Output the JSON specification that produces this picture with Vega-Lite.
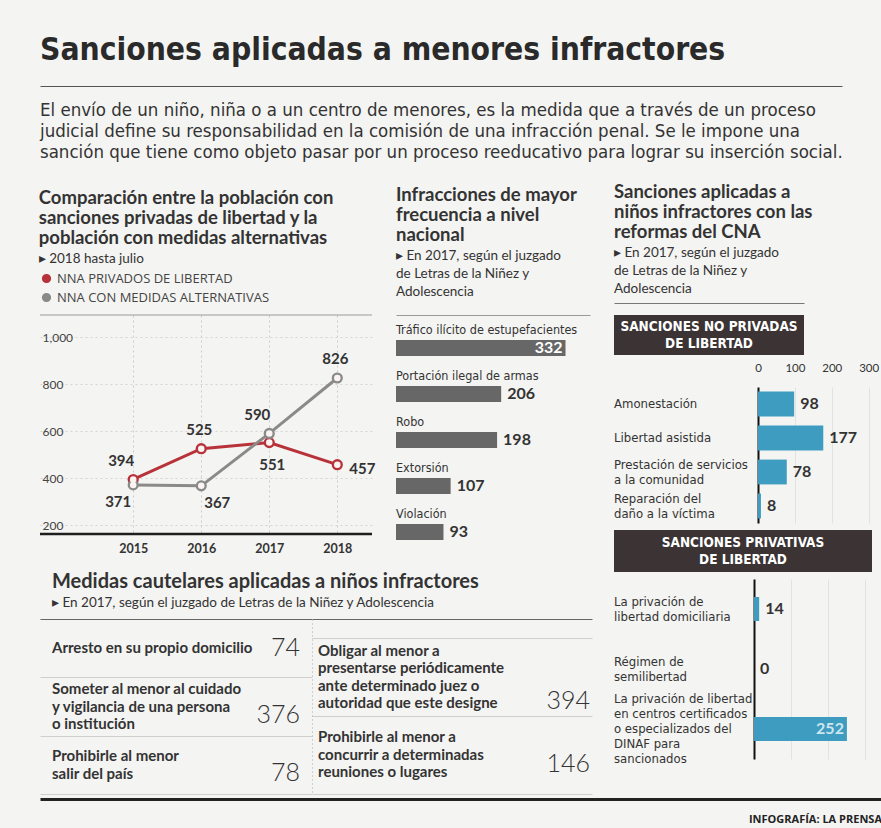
{
  "$schema": "https://vega.github.io/schema/vega-lite/v6.json",
  "background": "#f4f4f2",
  "padding": {"left": 38, "top": 34, "right": 0, "bottom": 0},
  "config": {
    "view": {"stroke": null},
    "font": "Lato",
    "title": {"anchor": "start", "color": "#333333", "font": "Lato", "fontWeight": "bold", "fontSize": 18.5, "lineHeight": 20, "subtitleFont": "Lato", "subtitleFontSize": 13.5, "subtitleColor": "#333333", "subtitleLineHeight": 18, "subtitlePadding": 4, "offset": 12},
    "axis": {"labelFont": "Lato", "titleFont": "Lato"}
  },
  "spacing": 5,
  "resolve": {"scale": {"color": "independent"}, "legend": {"color": "independent"}},
  "vconcat": [
    {
      "spacing": 20,
      "resolve": {"scale": {"color": "independent"}, "legend": {"color": "independent"}},
      "vconcat": [
        {
          "title": {"text": "Sanciones aplicadas a menores infractores", "font": "DejaVu Sans Condensed", "fontSize": 31.5, "fontWeight": "bold", "color": "#2a2a2a", "offset": 20},
          "width": 802,
          "height": 64,
          "data": {"values": [
            {"linea": 1, "texto": "El envío de un niño, niña o a un centro de menores, es la medida que a través de un proceso"},
            {"linea": 2, "texto": "judicial define su responsabilidad en la comisión de una infracción penal. Se le impone una"},
            {"linea": 3, "texto": "sanción que tiene como objeto pasar por un proceso reeducativo para lograr su inserción social."}
          ]},
          "mark": {"type": "text", "align": "left", "font": "DejaVu Sans Condensed", "fontSize": 18.5, "color": "#333333"},
          "encoding": {
            "x": {"datum": 0, "type": "quantitative", "scale": {"domain": [0, 1]}, "axis": {"orient": "top", "domain": true, "domainColor": "#555555", "labels": false, "ticks": false, "grid": false, "title": null, "offset": 13}},
            "y": {"field": "linea", "type": "ordinal", "axis": null, "scale": {"paddingInner": 0, "paddingOuter": 0}},
            "text": {"field": "texto"}
          }
        },
        {
          "spacing": 22,
          "resolve": {"scale": {"color": "independent"}, "legend": {"color": "independent"}},
          "hconcat": [
            {
              "spacing": 16,
              "resolve": {"scale": {"color": "independent"}, "legend": {"color": "independent"}},
              "vconcat": [
                {
                  "spacing": 20,
                  "resolve": {"scale": {"color": "independent"}, "legend": {"color": "independent"}},
                  "hconcat": [
                    {
                      "title": {"text": ["Comparación entre la población con", "sanciones privadas de libertad y la", "población con medidas alternativas"], "subtitle": "▸ 2018 hasta julio", "offset": 7},
                      "width": 332,
                      "height": 219,
                      "data": {"values": [
                        {"anio": 2015, "grupo": "NNA PRIVADOS DE LIBERTAD", "casos": 394},
                        {"anio": 2016, "grupo": "NNA PRIVADOS DE LIBERTAD", "casos": 525},
                        {"anio": 2017, "grupo": "NNA PRIVADOS DE LIBERTAD", "casos": 551},
                        {"anio": 2018, "grupo": "NNA PRIVADOS DE LIBERTAD", "casos": 457},
                        {"anio": 2015, "grupo": "NNA CON MEDIDAS ALTERNATIVAS", "casos": 371},
                        {"anio": 2016, "grupo": "NNA CON MEDIDAS ALTERNATIVAS", "casos": 367},
                        {"anio": 2017, "grupo": "NNA CON MEDIDAS ALTERNATIVAS", "casos": 590},
                        {"anio": 2018, "grupo": "NNA CON MEDIDAS ALTERNATIVAS", "casos": 826}
                      ]},
                      "layer": [
                        {
                          "mark": {"type": "line", "strokeWidth": 3},
                          "encoding": {
                            "x": {"field": "anio", "type": "quantitative", "scale": {"domain": [2013.63, 2018.51], "nice": false, "zero": false}, "axis": {"values": [2015, 2016, 2017, 2018], "format": "d", "title": null, "labelFontWeight": "bold", "labelFontSize": 12.5, "labelColor": "#333333", "domain": false, "ticks": false, "grid": true, "gridDash": [2, 3], "gridColor": "#cccccc", "labelPadding": 8}},
                            "y": {"field": "casos", "type": "quantitative", "scale": {"domain": [162, 1094], "nice": false, "zero": false}, "axis": {"values": [200, 400, 600, 800, 1000], "format": ",d", "title": null, "labelAlign": "left", "labelPadding": -2, "labelFontSize": 12, "labelColor": "#444444", "domain": false, "ticks": false, "grid": true, "gridDash": [2, 3], "gridColor": "#d5d5d5"}},
                            "color": {"field": "grupo", "type": "nominal", "scale": {"domain": ["NNA PRIVADOS DE LIBERTAD", "NNA CON MEDIDAS ALTERNATIVAS"], "range": ["#b8323a", "#8a8a88"]},
                              "legend": {"orient": "top", "direction": "vertical", "title": null, "symbolType": "circle", "symbolSize": 60, "labelFontSize": 13, "labelColor": "#444444", "labelFont": "Open Sans", "labelLimit": 0, "rowPadding": 4, "padding": 0, "offset": 10}}
                          }
                        },
                        {
                          "mark": {"type": "point", "shape": "circle", "filled": true, "size": 125, "opacity": 1},
                          "encoding": {
                            "x": {"field": "anio", "type": "quantitative"},
                            "y": {"field": "casos", "type": "quantitative"},
                            "color": {"field": "grupo", "type": "nominal"}
                          }
                        },
                        {
                          "mark": {"type": "point", "shape": "circle", "filled": true, "size": 42, "opacity": 1, "color": "#fbf4f2"},
                          "encoding": {
                            "x": {"field": "anio", "type": "quantitative"},
                            "y": {"field": "casos", "type": "quantitative"}
                          }
                        },
                        {
                          "data": {"values": [{"limite": 1094}]},
                          "mark": {"type": "rule", "color": "#9a9a9a", "strokeWidth": 1},
                          "encoding": {"y": {"field": "limite", "type": "quantitative"}}
                        },
                        {
                          "data": {"values": [{"limite": 162}]},
                          "mark": {"type": "rule", "color": "#1e1e1e", "strokeWidth": 2.5},
                          "encoding": {"y": {"field": "limite", "type": "quantitative"}}
                        },
                        {
                          "transform": [{"filter": "(datum.grupo == 'NNA PRIVADOS DE LIBERTAD' && datum.anio == 2015) || (datum.grupo == 'NNA CON MEDIDAS ALTERNATIVAS' && datum.anio == 2017)"}],
                          "mark": {"type": "text", "dx": -12, "dy": -18, "fontSize": 15, "fontWeight": "bold", "color": "#333333"},
                          "encoding": {"x": {"field": "anio", "type": "quantitative"}, "y": {"field": "casos", "type": "quantitative"}, "text": {"field": "casos"}}
                        },
                        {
                          "transform": [{"filter": "(datum.grupo == 'NNA PRIVADOS DE LIBERTAD' && datum.anio == 2016) || (datum.grupo == 'NNA CON MEDIDAS ALTERNATIVAS' && datum.anio == 2018)"}],
                          "mark": {"type": "text", "dx": -2, "dy": -19, "fontSize": 15, "fontWeight": "bold", "color": "#333333"},
                          "encoding": {"x": {"field": "anio", "type": "quantitative"}, "y": {"field": "casos", "type": "quantitative"}, "text": {"field": "casos"}}
                        },
                        {
                          "transform": [{"filter": "datum.grupo == 'NNA CON MEDIDAS ALTERNATIVAS' && datum.anio == 2015"}],
                          "mark": {"type": "text", "dx": -15, "dy": 17, "fontSize": 15, "fontWeight": "bold", "color": "#333333"},
                          "encoding": {"x": {"field": "anio", "type": "quantitative"}, "y": {"field": "casos", "type": "quantitative"}, "text": {"field": "casos"}}
                        },
                        {
                          "transform": [{"filter": "datum.grupo == 'NNA CON MEDIDAS ALTERNATIVAS' && datum.anio == 2016"}],
                          "mark": {"type": "text", "dx": 16, "dy": 17, "fontSize": 15, "fontWeight": "bold", "color": "#333333"},
                          "encoding": {"x": {"field": "anio", "type": "quantitative"}, "y": {"field": "casos", "type": "quantitative"}, "text": {"field": "casos"}}
                        },
                        {
                          "transform": [{"filter": "datum.grupo == 'NNA PRIVADOS DE LIBERTAD' && datum.anio == 2017"}],
                          "mark": {"type": "text", "dx": 3, "dy": 22, "fontSize": 15, "fontWeight": "bold", "color": "#333333"},
                          "encoding": {"x": {"field": "anio", "type": "quantitative"}, "y": {"field": "casos", "type": "quantitative"}, "text": {"field": "casos"}}
                        },
                        {
                          "transform": [{"filter": "datum.grupo == 'NNA PRIVADOS DE LIBERTAD' && datum.anio == 2018"}],
                          "mark": {"type": "text", "dx": 12, "dy": 4, "align": "left", "fontSize": 15, "fontWeight": "bold", "color": "#333333"},
                          "encoding": {"x": {"field": "anio", "type": "quantitative"}, "y": {"field": "casos", "type": "quantitative"}, "text": {"field": "casos"}}
                        }
                      ]
                    },
                    {
                      "title": {"text": ["Infracciones de mayor", "frecuencia a nivel", "nacional"], "subtitle": ["▸ En 2017, según el juzgado", "\u00a0\u00a0\u00a0de Letras de la Niñez y", "\u00a0\u00a0\u00a0Adolescencia"], "offset": 17},
                      "width": 194,
                      "height": 236,
                      "data": {"values": [
                        {"infraccion": "Tráfico ilícito de estupefacientes", "casos": 332},
                        {"infraccion": "Portación ilegal de armas", "casos": 206},
                        {"infraccion": "Robo", "casos": 198},
                        {"infraccion": "Extorsión", "casos": 107},
                        {"infraccion": "Violación", "casos": 93}
                      ]},
                      "layer": [
                        {
                          "mark": {"type": "bar", "size": 16, "color": "#676767", "yOffset": 4},
                          "encoding": {
                            "x": {"field": "casos", "type": "quantitative", "scale": {"domain": [0, 380], "nice": false}, "axis": {"orient": "top", "labels": false, "ticks": false, "grid": false, "domain": true, "domainColor": "#999999", "offset": 0, "title": null}},
                            "y": {"field": "infraccion", "type": "nominal", "sort": null, "axis": null, "scale": {"paddingInner": 0, "paddingOuter": 0.065, "align": 1}}
                          }
                        },
                        {
                          "mark": {"type": "text", "align": "left", "baseline": "top", "dy": 3, "font": "DejaVu Sans Condensed", "fontSize": 12.5, "color": "#333333"},
                          "encoding": {
                            "x": {"datum": 0, "type": "quantitative"},
                            "y": {"field": "infraccion", "type": "nominal", "sort": null, "bandPosition": 0},
                            "text": {"field": "infraccion"}
                          }
                        },
                        {
                          "transform": [{"filter": "datum.casos < 300"}],
                          "mark": {"type": "text", "align": "left", "dx": 6, "dy": 4, "fontSize": 16, "fontWeight": "bold", "color": "#333333"},
                          "encoding": {
                            "x": {"field": "casos", "type": "quantitative"},
                            "y": {"field": "infraccion", "type": "nominal", "sort": null},
                            "text": {"field": "casos"}
                          }
                        },
                        {
                          "transform": [{"filter": "datum.casos >= 300"}],
                          "mark": {"type": "text", "align": "right", "dx": -3, "dy": 4, "fontSize": 16, "fontWeight": "bold", "color": "#ffffff"},
                          "encoding": {
                            "x": {"field": "casos", "type": "quantitative"},
                            "y": {"field": "infraccion", "type": "nominal", "sort": null},
                            "text": {"field": "casos"}
                          }
                        }
                      ]
                    }
                  ]
                },
                {
                  "title": {"text": "Medidas cautelares aplicadas a niños infractores", "subtitle": "▸ En 2017, según el juzgado de Letras de la Niñez y Adolescencia", "fontSize": 20, "dx": 12, "offset": 10},
                  "spacing": 0,
                  "hconcat": [
                    {
                      "width": 272,
                      "height": 175,
                      "data": {"values": [
                        {"medida": "Arresto en su propio domicilio", "casos": 74},
                        {"medida": "Someter al menor al cuidado\ny vigilancia de una persona\no institución", "casos": 376},
                        {"medida": "Prohibirle al menor\nsalir del país", "casos": 78}
                      ]},
                      "encoding": {
                        "x": {"datum": 0, "type": "quantitative", "scale": {"domain": [0, 1]}, "axis": {"orient": "top", "domain": true, "domainColor": "#666666", "labels": false, "ticks": false, "grid": false, "title": null}},
                        "y": {"field": "medida", "type": "nominal", "sort": ["Arresto en su propio domicilio", "Someter al menor al cuidado\ny vigilancia de una persona\no institución", "Prohibirle al menor\nsalir del país"], "scale": {"paddingInner": 0, "paddingOuter": 0}, "axis": {"grid": true, "tickBand": "extent", "labels": false, "ticks": false, "domain": false, "gridColor": "#cfcfcf", "title": null}}
                      },
                      "layer": [
                        {
                          "transform": [{"filter": "length(split(datum.medida, '\\n')) == 1"}],
                          "mark": {"type": "text", "align": "left", "dx": 12, "lineBreak": "\n", "lineHeight": 17.5, "fontSize": 15, "fontWeight": "bold", "color": "#333333"},
                          "encoding": {"text": {"field": "medida"}}
                        },
                        {
                          "transform": [{"filter": "length(split(datum.medida, '\\n')) == 2"}],
                          "mark": {"type": "text", "align": "left", "dx": 12, "dy": -8.75, "lineBreak": "\n", "lineHeight": 17.5, "fontSize": 15, "fontWeight": "bold", "color": "#333333"},
                          "encoding": {"text": {"field": "medida"}}
                        },
                        {
                          "transform": [{"filter": "length(split(datum.medida, '\\n')) == 3"}],
                          "mark": {"type": "text", "align": "left", "dx": 12, "dy": -17.5, "lineBreak": "\n", "lineHeight": 17.5, "fontSize": 15, "fontWeight": "bold", "color": "#333333"},
                          "encoding": {"text": {"field": "medida"}}
                        },
                        {
                          "transform": [{"filter": "length(split(datum.medida, '\\n')) == 1"}],
                          "mark": {"type": "text", "align": "right", "dx": -12, "fontSize": 25, "fontWeight": 300, "color": "#333333"},
                          "encoding": {"x": {"datum": 1, "type": "quantitative"}, "text": {"field": "casos"}}
                        },
                        {
                          "transform": [{"filter": "length(split(datum.medida, '\\n')) > 1"}],
                          "mark": {"type": "text", "align": "right", "dx": -12, "dy": 8, "fontSize": 25, "fontWeight": 300, "color": "#333333"},
                          "encoding": {"x": {"datum": 1, "type": "quantitative"}, "text": {"field": "casos"}}
                        }
                      ]
                    },
                    {
                      "width": 280,
                      "height": 175,
                      "data": {"values": [
                        {"medida": "Obligar al menor a\npresentarse periódicamente\nante determinado juez o\nautoridad que este designe", "casos": 394},
                        {"medida": "Prohibirle al menor a\nconcurrir a determinadas\nreuniones o lugares", "casos": 146}
                      ]},
                      "encoding": {
                        "x": {"datum": 0, "type": "quantitative", "scale": {"domain": [0, 1]}, "axis": {"orient": "top", "domain": true, "domainColor": "#666666", "labels": false, "ticks": false, "grid": false, "title": null}},
                        "y": {"field": "medida", "type": "nominal", "sort": ["Obligar al menor a\npresentarse periódicamente\nante determinado juez o\nautoridad que este designe", "Prohibirle al menor a\nconcurrir a determinadas\nreuniones o lugares"], "scale": {"paddingInner": 0, "paddingOuter": 0.12, "align": 1}, "axis": {"grid": true, "tickBand": "extent", "labels": false, "ticks": false, "domain": true, "domainDash": [1, 3], "domainColor": "#aaaaaa", "gridColor": "#cfcfcf", "title": null}}
                      },
                      "layer": [
                        {
                          "transform": [{"filter": "length(split(datum.medida, '\\n')) == 4"}],
                          "mark": {"type": "text", "align": "left", "dx": 6, "dy": -26.25, "lineBreak": "\n", "lineHeight": 17.5, "fontSize": 15, "fontWeight": "bold", "color": "#333333"},
                          "encoding": {"text": {"field": "medida"}}
                        },
                        {
                          "transform": [{"filter": "length(split(datum.medida, '\\n')) == 3"}],
                          "mark": {"type": "text", "align": "left", "dx": 6, "dy": -17.5, "lineBreak": "\n", "lineHeight": 17.5, "fontSize": 15, "fontWeight": "bold", "color": "#333333"},
                          "encoding": {"text": {"field": "medida"}}
                        },
                        {
                          "transform": [{"filter": "length(split(datum.medida, '\\n')) == 4"}],
                          "mark": {"type": "text", "align": "right", "dx": -2, "dy": 24, "fontSize": 25, "fontWeight": 300, "color": "#333333"},
                          "encoding": {"x": {"datum": 1, "type": "quantitative"}, "text": {"field": "casos"}}
                        },
                        {
                          "transform": [{"filter": "length(split(datum.medida, '\\n')) == 3"}],
                          "mark": {"type": "text", "align": "right", "dx": -2, "dy": 9, "fontSize": 25, "fontWeight": 300, "color": "#333333"},
                          "encoding": {"x": {"datum": 1, "type": "quantitative"}, "text": {"field": "casos"}}
                        }
                      ]
                    }
                  ]
                }
              ]
            },
            {
              "spacing": 7,
              "vconcat": [
                {
                  "title": {"text": ["Sanciones aplicadas a", "niños infractores con las", "reformas del CNA"], "subtitle": ["▸ En 2017, según el juzgado", "\u00a0\u00a0\u00a0de Letras de la Niñez y", "\u00a0\u00a0\u00a0Adolescencia"], "offset": 8},
                  "width": 190,
                  "height": 40,
                  "data": {"values": [{"seccion": "SANCIONES NO PRIVADAS\nDE LIBERTAD"}]},
                  "layer": [
                    {
                      "mark": {"type": "rect", "color": "#3b3334"},
                      "encoding": {
                        "x": {"datum": 0, "type": "quantitative", "scale": {"domain": [0, 1]}, "axis": {"orient": "top", "domain": true, "domainColor": "#777777", "labels": false, "ticks": false, "grid": false, "title": null, "offset": 12}},
                        "x2": {"datum": 1}
                      }
                    },
                    {
                      "mark": {"type": "text", "color": "#ffffff", "fontWeight": "bold", "fontSize": 13.5, "font": "DejaVu Sans Condensed", "lineBreak": "\n", "lineHeight": 17, "dy": -8},
                      "encoding": {"x": {"datum": 0.5, "type": "quantitative"}, "text": {"field": "seccion"}}
                    }
                  ]
                },
                {
                  "spacing": 0,
                  "hconcat": [
                    {
                      "width": 140,
                      "height": 136,
                      "data": {"values": [
                        {"sancion": "Amonestación", "casos": 98},
                        {"sancion": "Libertad asistida", "casos": 177},
                        {"sancion": "Prestación de servicios\na la comunidad", "casos": 78},
                        {"sancion": "Reparación del\ndaño a la víctima", "casos": 8}
                      ]},
                      "encoding": {
                        "x": {"datum": 0, "type": "quantitative", "scale": {"domain": [0, 1]}, "axis": null},
                        "y": {"field": "sancion", "type": "nominal", "sort": ["Amonestación", "Libertad asistida", "Prestación de servicios\na la comunidad", "Reparación del\ndaño a la víctima"], "scale": {"paddingInner": 0.27, "paddingOuter": 0.135}, "axis": null},
                        "text": {"field": "sancion"}
                      },
                      "layer": [
                        {
                          "transform": [{"filter": "length(split(datum.sancion, '\\n')) == 1"}],
                          "mark": {"type": "text", "align": "left", "font": "DejaVu Sans Condensed", "fontSize": 13, "color": "#333333", "lineBreak": "\n", "lineHeight": 15}
                        },
                        {
                          "transform": [{"filter": "length(split(datum.sancion, '\\n')) == 2"}],
                          "mark": {"type": "text", "align": "left", "dy": -7.5, "font": "DejaVu Sans Condensed", "fontSize": 13, "color": "#333333", "lineBreak": "\n", "lineHeight": 15}
                        }
                      ]
                    },
                    {
                      "width": 118,
                      "height": 136,
                      "data": {"values": [
                        {"sancion": "Amonestación", "casos": 98},
                        {"sancion": "Libertad asistida", "casos": 177},
                        {"sancion": "Prestación de servicios\na la comunidad", "casos": 78},
                        {"sancion": "Reparación del\ndaño a la víctima", "casos": 8}
                      ]},
                      "encoding": {
                        "x": {"field": "casos", "type": "quantitative", "scale": {"domain": [0, 320], "nice": false}, "axis": {"orient": "top", "values": [0, 100, 200, 300], "labelOverlap": false, "labelFlush": false, "labelFontSize": 11.5, "labelColor": "#333333", "domain": false, "ticks": false, "grid": true, "gridColor": "#e2e2e2", "labelPadding": 14, "title": null}},
                        "y": {"field": "sancion", "type": "nominal", "sort": null, "scale": {"paddingInner": 0.27, "paddingOuter": 0.135}, "axis": {"labels": false, "domain": true, "domainColor": "#111111", "domainWidth": 2, "ticks": false, "title": null}}
                      },
                      "layer": [
                        {
                          "mark": {"type": "bar", "color": "#3d9cbf"}
                        },
                        {
                          "mark": {"type": "text", "align": "left", "dx": 6, "fontSize": 16, "fontWeight": "bold", "color": "#333333"},
                          "encoding": {"text": {"field": "casos"}}
                        }
                      ]
                    }
                  ]
                },
                {
                  "width": 258,
                  "height": 42,
                  "data": {"values": [{"seccion": "SANCIONES PRIVATIVAS\nDE LIBERTAD"}]},
                  "layer": [
                    {
                      "mark": {"type": "rect", "color": "#3b3334"},
                      "encoding": {"x": {"datum": 0, "type": "quantitative", "scale": {"domain": [0, 1]}, "axis": null}, "x2": {"datum": 1}}
                    },
                    {
                      "mark": {"type": "text", "color": "#ffffff", "fontWeight": "bold", "fontSize": 13.5, "font": "DejaVu Sans Condensed", "lineBreak": "\n", "lineHeight": 17, "dy": -8},
                      "encoding": {"x": {"datum": 0.5, "type": "quantitative"}, "text": {"field": "seccion"}}
                    }
                  ]
                },
                {
                  "spacing": 0,
                  "hconcat": [
                    {
                      "width": 140,
                      "height": 180,
                      "data": {"values": [
                        {"sancion": "La privación de\nlibertad domiciliaria", "casos": 14},
                        {"sancion": "Régimen de\nsemilibertad", "casos": 0},
                        {"sancion": "La privación de libertad\nen centros certificados\no especializados del\nDINAF para\nsancionados", "casos": 252}
                      ]},
                      "encoding": {
                        "x": {"datum": 0, "type": "quantitative", "scale": {"domain": [0, 1]}, "axis": null},
                        "y": {"field": "sancion", "type": "nominal", "sort": ["La privación de\nlibertad domiciliaria", "Régimen de\nsemilibertad", "La privación de libertad\nen centros certificados\no especializados del\nDINAF para\nsancionados"], "scale": {"paddingInner": 0.6, "paddingOuter": 0.3}, "axis": null},
                        "text": {"field": "sancion"}
                      },
                      "layer": [
                        {
                          "transform": [{"filter": "length(split(datum.sancion, '\\n')) == 2"}],
                          "mark": {"type": "text", "align": "left", "dy": -7.5, "font": "DejaVu Sans Condensed", "fontSize": 13, "color": "#333333", "lineBreak": "\n", "lineHeight": 15}
                        },
                        {
                          "transform": [{"filter": "length(split(datum.sancion, '\\n')) == 5"}],
                          "mark": {"type": "text", "align": "left", "dy": -30, "font": "DejaVu Sans Condensed", "fontSize": 13, "color": "#333333", "lineBreak": "\n", "lineHeight": 15}
                        }
                      ]
                    },
                    {
                      "width": 118,
                      "height": 180,
                      "data": {"values": [
                        {"sancion": "La privación de\nlibertad domiciliaria", "casos": 14},
                        {"sancion": "Régimen de\nsemilibertad", "casos": 0},
                        {"sancion": "La privación de libertad\nen centros certificados\no especializados del\nDINAF para\nsancionados", "casos": 252}
                      ]},
                      "encoding": {
                        "x": {"field": "casos", "type": "quantitative", "scale": {"domain": [0, 320], "nice": false}, "axis": {"orient": "top", "values": [0, 100, 200, 300], "labels": false, "domain": false, "ticks": false, "grid": true, "gridColor": "#e2e2e2", "title": null}},
                        "y": {"field": "sancion", "type": "nominal", "sort": null, "scale": {"paddingInner": 0.6, "paddingOuter": 0.3}, "axis": {"labels": false, "domain": true, "domainColor": "#111111", "domainWidth": 2, "ticks": false, "title": null}}
                      },
                      "layer": [
                        {
                          "mark": {"type": "bar", "color": "#3d9cbf"}
                        },
                        {
                          "transform": [{"filter": "datum.casos < 200"}],
                          "mark": {"type": "text", "align": "left", "dx": 6, "fontSize": 16, "fontWeight": "bold", "color": "#333333"},
                          "encoding": {"text": {"field": "casos"}}
                        },
                        {
                          "transform": [{"filter": "datum.casos >= 200"}],
                          "mark": {"type": "text", "align": "right", "dx": -3, "fontSize": 16, "fontWeight": "bold", "color": "#cfe6ef"},
                          "encoding": {"text": {"field": "casos"}}
                        }
                      ]
                    }
                  ]
                }
              ]
            }
          ]
        }
      ]
    },
    {
      "width": 842,
      "height": 42,
      "data": {"values": [{"fuente": "INFOGRAFÍA: LA PRENSA"}]},
      "mark": {"type": "text", "align": "right", "fontSize": 11, "fontWeight": "bold", "font": "Open Sans", "color": "#222222"},
      "encoding": {
        "x": {"datum": 1, "type": "quantitative", "scale": {"domain": [0, 1]}, "axis": {"orient": "top", "domain": true, "domainColor": "#222222", "domainWidth": 3, "labels": false, "ticks": false, "grid": false, "title": null}},
        "text": {"field": "fuente"}
      }
    }
  ]
}
